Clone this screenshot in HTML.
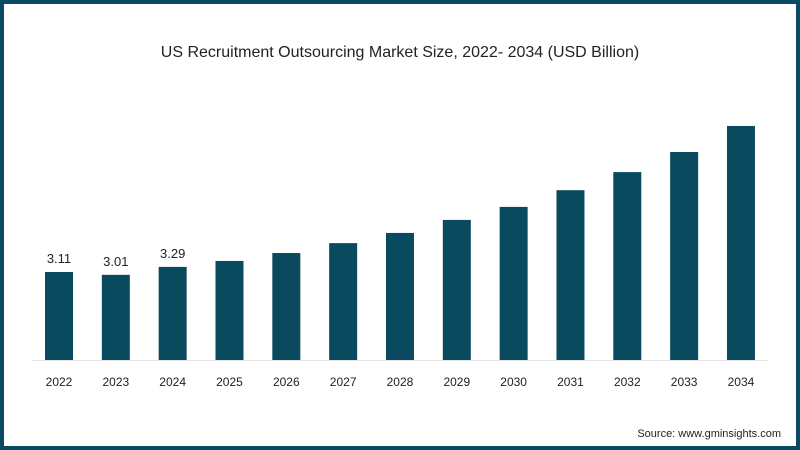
<!DOCTYPE html>
<html><head><meta charset="utf-8"><style>
html,body{margin:0;padding:0;width:800px;height:450px;overflow:hidden;background:#fff}
svg{display:block;font-family:"Liberation Sans",sans-serif}
</style></head><body>
<svg width="800" height="450" viewBox="0 0 800 450">
<rect x="2" y="2" width="796" height="446" fill="#fff" stroke="#0b4a63" stroke-width="4"/>
<text x="400" y="57" text-anchor="middle" font-size="16" fill="#222">US Recruitment Outsourcing Market Size, 2022- 2034 (USD Billion)</text>
<line x1="32" y1="360.5" x2="768" y2="360.5" stroke="#e4e4e4"/>
<g id="bars"></g>
<text x="781" y="437" text-anchor="end" font-size="11" fill="#222">Source: www.gminsights.com</text>
</svg>
<script>
const categories=["2022","2023","2024","2025","2026","2027","2028","2029","2030","2031","2032","2033","2034"];
const values=[3.11,3.01,3.29,3.5,3.78,4.13,4.49,4.95,5.41,6.0,6.64,7.35,8.27];
const labels=["3.11","3.01","3.29","","","","","","","","","",""];
const base=360, scale=28.3, x0=45, step=56.83, bw=28;
const y=v=>base-v*scale;
const xs=i=>x0+i*step;
const g=document.getElementById('bars');
const NS="http://www.w3.org/2000/svg";
categories.forEach((c,i)=>{
  const r=document.createElementNS(NS,'rect');
  r.setAttribute('x',xs(i));r.setAttribute('y',y(values[i]));
  r.setAttribute('width',bw);r.setAttribute('height',base-y(values[i]));
  r.setAttribute('fill','#0a4a5e');
  
  
  g.appendChild(r);
  const t=document.createElementNS(NS,'text');
  t.setAttribute('x',xs(i)+bw/2);t.setAttribute('y',386);
  t.setAttribute('text-anchor','middle');t.setAttribute('font-size','12');t.setAttribute('fill','#222');
  t.textContent=c;
  
  
  g.appendChild(t);
  if(labels[i]){
    const l=document.createElementNS(NS,'text');
    l.setAttribute('x',xs(i)+bw/2);l.setAttribute('y',y(values[i])-9);
    l.setAttribute('text-anchor','middle');l.setAttribute('font-size','13');l.setAttribute('fill','#222');
    l.textContent=labels[i];
    
    
    g.appendChild(l);
  }
});
</script>
</body></html>
